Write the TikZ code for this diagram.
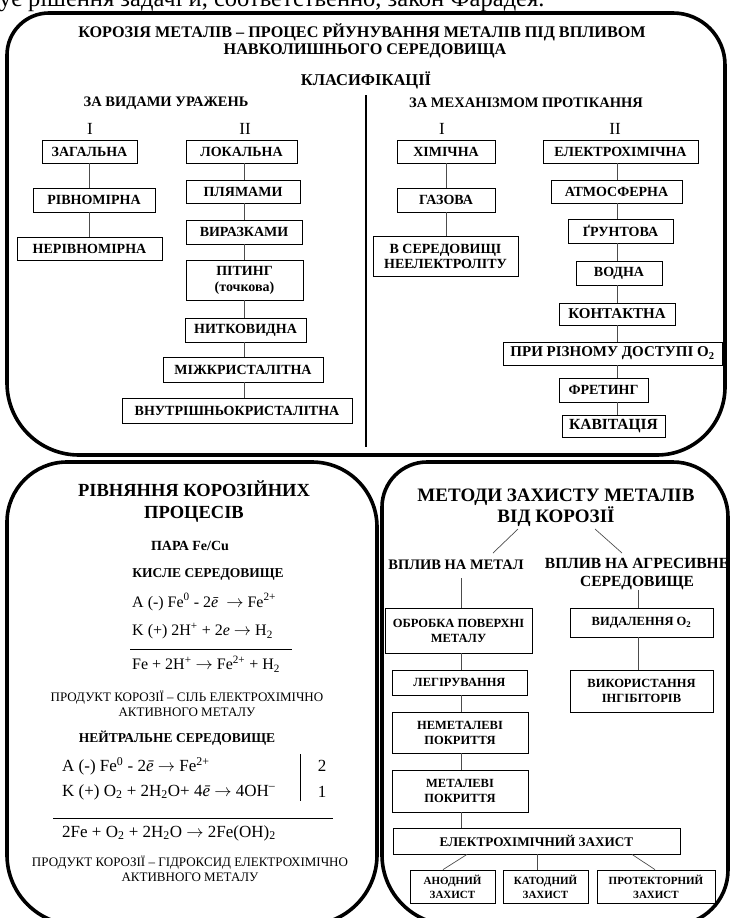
\documentclass[tikz,border=0pt]{standalone}
\usepackage{fontspec}
\setmainfont{Liberation Serif}
\newcommand\fsz[2]{\fontsize{#1}{#2}\selectfont}
\newcommand\arr{$\rightarrow$}
\begin{document}
\begin{tikzpicture}[x=1pt,y=-1pt,
  frame/.style={line width=3.6pt, line join=round, line cap=round},
  box/.style={draw=black, line width=0.8pt, inner sep=1pt, align=center, font=\fsz{14}{15}\bfseries},
  sbox/.style={box, font=\fsz{12.5}{15}\bfseries},
  tbox/.style={box, font=\fsz{11}{14}\bfseries},
  sz/.style 2 args={minimum width=#1, minimum height=#2},
  conn/.style={line width=0.7pt, draw=black!70},
  hd/.style={inner sep=0pt, align=center},
  eq/.style={inner sep=0pt, anchor=west, font=\fsz{16}{18}},
  eqb/.style={eq, font=\fsz{17}{19}},
  note/.style={inner sep=0pt, align=center, font=\fsz{13}{15.5}}
]
\path[use as bounding box] (0,0) rectangle (731,918);
\clip (0,0) rectangle (731,918);

% running text of the page, cut at the top edge
\node[inner sep=0pt, anchor=base west, font=\fsz{24.5}{26}] (pagetext) at (-1,6)
  {ує рішення задачі и, соответственно, закон Фарадея.};

% ---------- outer frames ----------
\draw[frame] (49,13) -- (673,13) .. controls (701.7,13) and (725,36.3) .. (725,65)
  -- (725,387) .. controls (725,424.5) and (694.5,455) .. (657,455)
  -- (79,455) .. controls (39.3,455) and (7,422.7) .. (7,383)
  -- (7,55) .. controls (7,31.8) and (25.8,13) .. (49,13) -- cycle;
\draw[frame] (67,462) -- (312,462) .. controls (347.9,462) and (377,491.1) .. (377,527)
  -- (377,855) .. controls (377,893.6) and (345.6,925) .. (307,925)
  -- (77,925) .. controls (38.4,925) and (7,893.6) .. (7,855)
  -- (7,522) .. controls (7,488.9) and (33.9,462) .. (67,462) -- cycle;
\draw[frame] (427,462) -- (673,462) .. controls (703.4,462) and (728,486.6) .. (728,517)
  -- (728,870) .. controls (728,900.4) and (703.4,925) .. (673,925)
  -- (452,925) .. controls (413.4,925) and (382,893.6) .. (382,855)
  -- (382,507) .. controls (382,482.2) and (402.2,462) .. (427,462) -- cycle;

% ---------- classification ----------
\node[hd, font=\fsz{16.2}{18}\bfseries] (title) at (362,32)
  {КОРОЗІЯ МЕТАЛІВ – ПРОЦЕС РЙУНУВАННЯ МЕТАЛІВ ПІД ВПЛИВОМ};
\node[hd, font=\fsz{16.2}{18}\bfseries] (title2) at (365,51) {НАВКОЛИШНЬОГО СЕРЕДОВИЩА};
\node[hd, font=\fsz{16.5}{18}\bfseries] (klas) at (366,80) {КЛАСИФІКАЦІЇ};
\node[hd, font=\fsz{14.5}{16}\bfseries] (bytype) at (166,103) {ЗА ВИДАМИ УРАЖЕНЬ};
\node[hd, font=\fsz{14.5}{16}\bfseries] (bymech) at (526,103) {ЗА МЕХАНІЗМОМ ПРОТІКАННЯ};

\coordinate (divtop) at (366,95);
\coordinate (divbot) at (366,447);
\draw[line width=1.2pt] (divtop) -- (divbot);

\node[hd, font=\fsz{17}{18}] (rA) at (90,129) {I};
\node[hd, font=\fsz{17}{18}] (rB) at (245,129) {II};
\node[hd, font=\fsz{17}{18}] (rC) at (442,129) {I};
\node[hd, font=\fsz{17}{18}] (rD) at (615,129) {II};

% by kind of damage, group I
\node[box, sz={95pt}{23pt}] (zag) at (89.5,151.5) {ЗАГАЛЬНА};
\node[box, sz={122pt}{24pt}] (rivn) at (94,200) {РІВНОМІРНА};
\node[box, sz={145pt}{23pt}] (nerivn) at (89.5,248.5) {НЕРІВНОМІРНА};
\coordinate (xA) at (89,0);
\draw[conn] (zag.south -| xA) -- (rivn.north -| xA);
\draw[conn] (rivn.south -| xA) -- (nerivn.north -| xA);

% by kind of damage, group II
\node[box, sz={111pt}{23pt}] (lok) at (241.5,151.5) {ЛОКАЛЬНА};
\node[box, sz={114pt}{23pt}] (plyam) at (243,191.5) {ПЛЯМАМИ};
\node[box, sz={116pt}{24pt}] (viraz) at (244,232) {ВИРАЗКАМИ};
\node[box, sz={117pt}{40pt}] (piting) at (244.5,280) {ПІТИНГ\\[1pt](точкова)};
\node[box, sz={121pt}{24pt}] (nitk) at (245.5,330) {НИТКОВИДНА};
\node[box, sz={160pt}{25pt}] (mizh) at (243,369.5) {МІЖКРИСТАЛІТНА};
\node[box, sz={230pt}{25pt}] (vnutr) at (237,410.5) {ВНУТРІШНЬОКРИСТАЛІТНА};
\coordinate (xB) at (244,0);
\draw[conn] (lok.south -| xB) -- (plyam.north -| xB);
\draw[conn] (plyam.south -| xB) -- (viraz.north -| xB);
\draw[conn] (viraz.south -| xB) -- (piting.north -| xB);
\draw[conn] (piting.south -| xB) -- (nitk.north -| xB);
\draw[conn] (nitk.south -| xB) -- (mizh.north -| xB);
\draw[conn] (mizh.south -| xB) -- (vnutr.north -| xB);

% by mechanism, group I
\node[box, sz={98pt}{23pt}] (xim) at (446,151.5) {ХІМІЧНА};
\node[box, sz={98pt}{24pt}] (gaz) at (446,200) {ГАЗОВА};
\node[box, sz={145pt}{40pt}] (neel) at (445.5,256) {В СЕРЕДОВИЩІ\\НЕЕЛЕКТРОЛІТУ};
\coordinate (xC) at (446,0);
\draw[conn] (xim.south -| xC) -- (gaz.north -| xC);
\draw[conn] (gaz.south -| xC) -- (neel.north -| xC);

% by mechanism, group II
\node[box, sz={155pt}{23pt}] (el) at (620.5,151.5) {ЕЛЕКТРОХІМІЧНА};
\node[box, sz={131pt}{23pt}] (atm) at (616.5,191.5) {АТМОСФЕРНА};
\node[box, sz={105pt}{24pt}] (grunt) at (620.5,231) {ҐРУНТОВА};
\node[box, sz={86pt}{24pt}] (vodn) at (619,273) {ВОДНА};
\node[box, sz={116pt}{22pt}, font=\fsz{15}{16}\bfseries] (kont) at (617,314) {КОНТАКТНА};
\node[box, sz={219pt}{23pt}, font=\fsz{15}{16}\bfseries] (pri) at (612.5,353.5) {ПРИ РІЗНОМУ ДОСТУПІ O\textsubscript{2}};
\node[box, sz={89pt}{24pt}] (fret) at (603.5,390) {ФРЕТИНГ};
\node[box, sz={103pt}{22pt}, font=\fsz{15.5}{16}\bfseries] (kavit) at (613.5,426) {КАВІТАЦІЯ};
\coordinate (xD) at (617,0);
\draw[conn] (el.south -| xD) -- (atm.north -| xD);
\draw[conn] (atm.south -| xD) -- (grunt.north -| xD);
\draw[conn] (grunt.south -| xD) -- (vodn.north -| xD);
\draw[conn] (vodn.south -| xD) -- (kont.north -| xD);
\draw[conn] (kont.south -| xD) -- (pri.north -| xD);
\draw[conn] (pri.south -| xD) -- (fret.north -| xD);
\draw[conn] (fret.south -| xD) -- (kavit.north -| xD);

% ---------- corrosion equations ----------
\node[hd, font=\fsz{18.5}{22}\bfseries] (eqtitle) at (194,502) {РІВНЯННЯ КОРОЗІЙНИХ\\ПРОЦЕСІВ};
\node[hd, font=\fsz{14}{15}\bfseries] (para) at (190,546) {ПАРА Fe/Cu};
\node[hd, font=\fsz{13.5}{15}\bfseries] (acid) at (208,574) {КИСЛЕ СЕРЕДОВИЩЕ};
\node[eq] (e1) at (132,602) {A (-) Fe\textsuperscript{0} - 2{\itshape ē} \ \arr{} Fe\textsuperscript{2+}};
\node[eq] (e2) at (132,631) {K (+) 2H\textsuperscript{+} + 2{\itshape e} \arr{} H\textsubscript{2}};
\coordinate (s1a) at (130,649);
\coordinate (s1b) at (292,649);
\draw[line width=0.8pt] (s1a) -- (s1b);
\node[eq] (e3) at (132,664) {Fe + 2H\textsuperscript{+} \arr{} Fe\textsuperscript{2+} + H\textsubscript{2}};
\node[note] (prod1) at (187,704) {ПРОДУКТ КОРОЗІЇ – СІЛЬ ЕЛЕКТРОХІМІЧНО\\АКТИВНОГО МЕТАЛУ};
\node[hd, font=\fsz{13.5}{15}\bfseries] (neutr) at (177,738) {НЕЙТРАЛЬНЕ СЕРЕДОВИЩЕ};
\node[eqb] (e4) at (62,766) {A (-) Fe\textsuperscript{0} - 2{\itshape ē} \arr{} Fe\textsuperscript{2+}};
\node[eqb] (e5) at (62,792) {K (+) O\textsubscript{2} + 2H\textsubscript{2}O+ 4{\itshape ē} \arr{} 4OH\textsuperscript{–}};
\coordinate (bartop) at (300,754);
\coordinate (barbot) at (300,801);
\draw[line width=0.8pt] (bartop) -- (barbot);
\node[eqb, anchor=center] (k2) at (322,766) {2};
\node[eqb, anchor=center] (k1) at (322,792) {1};
\coordinate (s2a) at (53,818);
\coordinate (s2b) at (333,818);
\draw[line width=0.8pt] (s2a) -- (s2b);
\node[eqb] (e6) at (62,833) {2Fe + O\textsubscript{2} + 2H\textsubscript{2}O \arr{} 2Fe(OH)\textsubscript{2}};
\node[note] (prod2) at (190,869) {ПРОДУКТ КОРОЗІЇ – ГІДРОКСИД ЕЛЕКТРОХІМІЧНО\\АКТИВНОГО МЕТАЛУ};

% ---------- protection methods ----------
\node[hd, font=\fsz{19}{21}\bfseries] (prtitle) at (556,508) {МЕТОДИ ЗАХИСТУ МЕТАЛІВ\\ВІД КОРОЗІЇ};
\node[hd, font=\fsz{14.5}{16}\bfseries] (onmetal) at (456,565) {ВПЛИВ НА МЕТАЛ};
\node[hd, font=\fsz{15.5}{18}\bfseries] (onmedium) at (637,574) {ВПЛИВ НА АГРЕСИВНЕ\\СЕРЕДОВИЩЕ};
\coordinate (d1a) at (518,529);
\coordinate (d1b) at (493,553);
\coordinate (d2a) at (595,529);
\coordinate (d2b) at (622,553);
\draw[conn] (d1a) -- (d1b);
\draw[conn] (d2a) -- (d2b);

\node[sbox, sz={147pt}{45pt}] (obr) at (458.5,630.5) {ОБРОБКА ПОВЕРХНІ\\МЕТАЛУ};
\node[sbox, sz={135pt}{25pt}] (leg) at (459.5,682.5) {ЛЕГІРУВАННЯ};
\node[sbox, sz={136pt}{41pt}] (nemet) at (460,732.5) {НЕМЕТАЛЕВІ\\ПОКРИТТЯ};
\node[sbox, sz={136pt}{42pt}] (met) at (460,791) {МЕТАЛЕВІ\\ПОКРИТТЯ};
\node[sbox, sz={287pt}{26pt}, font=\fsz{13.2}{15}\bfseries] (ehz) at (536.5,841) {ЕЛЕКТРОХІМІЧНИЙ ЗАХИСТ};
\node[tbox, sz={85pt}{33pt}] (anod) at (452.5,886.5) {АНОДНИЙ\\ЗАХИСТ};
\node[tbox, sz={85pt}{33pt}] (katod) at (545.5,886.5) {КАТОДНИЙ\\ЗАХИСТ};
\node[tbox, sz={118pt}{33pt}] (prot) at (656,886.5) {ПРОТЕКТОРНИЙ\\ЗАХИСТ};
\node[sbox, sz={143pt}{29pt}] (vid) at (641.5,622.5) {ВИДАЛЕННЯ O\textsubscript{2}};
\node[sbox, sz={143pt}{42pt}] (vik) at (641.5,691) {ВИКОРИСТАННЯ\\ІНГІБІТОРІВ};

\coordinate (xE) at (461,0);
\coordinate (xF) at (638,0);
\draw[conn] (onmetal.south -| xE) ++(0,8) -- (obr.north -| xE);
\draw[conn] (obr.south -| xE) -- (leg.north -| xE);
\draw[conn] (leg.south -| xE) -- (nemet.north -| xE);
\draw[conn] (nemet.south -| xE) -- (met.north -| xE);
\draw[conn] (met.south -| xE) -- (ehz.north -| xE);
\draw[conn] (onmedium.south -| xF) -- (vid.north -| xF);
\draw[conn] (vid.south -| xF) -- (vik.north -| xF);

\coordinate (xG) at (467,0);
\coordinate (xH) at (537,0);
\coordinate (xI) at (632,0);
\draw[conn] (ehz.south -| xG) -- (anod.north -| 443,0);
\draw[conn] (ehz.south -| xH) -- (katod.north -| xH);
\draw[conn] (ehz.south -| xI) -- (prot.north -| 655,0);
\end{tikzpicture}
\end{document}
